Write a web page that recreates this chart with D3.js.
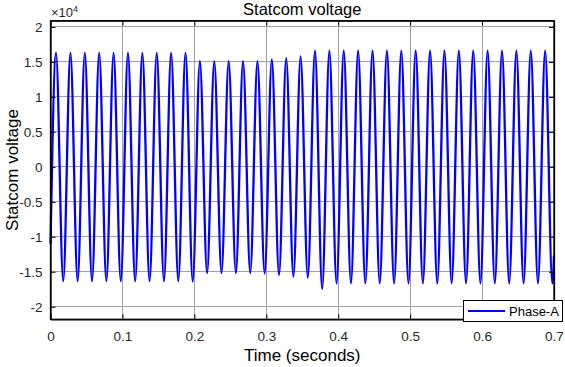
<!DOCTYPE html>
<html><head><meta charset="utf-8">
<script src="https://cdn.jsdelivr.net/npm/d3@7"></script>
<style>
html,body{margin:0;padding:0;background:#fff;}
svg{display:block;font-family:"Liberation Sans",Arial,sans-serif;}
</style></head>
<body><svg id="c" width="565" height="367"></svg>
<script>
// Data (volts)
const startPoint = [0.0, -11000];
const endPoint = [0.7, -12700];
const peakTimes = [0.0077,0.0277,0.0477,0.0677,0.0877,0.1077,0.1277,0.1477,0.1677,0.1877,
  0.2077,0.2277,0.2477,0.2677,0.2877,0.3077,0.3277,0.3477,0.3677,0.3877,
  0.4077,0.4277,0.4477,0.4677,0.4877,0.5077,0.5277,0.5477,0.5677,0.5877,
  0.6077,0.6277,0.6477,0.6677,0.6877];
const peakValues = [16300,16300,16300,16300,16300,16300,16300,16300,16300,16300,
  15100,15100,15100,15100,15100,15350,15550,15800,16600,16600,
  16600,16600,16600,16600,16600,16600,16600,16600,16600,16600,
  16600,16600,16600,16600,16600];
const troughTimes = [0.0177,0.0377,0.0577,0.0777,0.0977,0.1177,0.1377,0.1577,0.1777,0.1977,
  0.2177,0.2377,0.2577,0.2777,0.2977,0.3177,0.3377,0.3577,0.3777,0.3977,
  0.4177,0.4377,0.4577,0.4777,0.4977,0.5177,0.5377,0.5577,0.5777,0.5977,
  0.6177,0.6377,0.6577,0.6777,0.6977];
const troughValues = [-16350,-16350,-16350,-16350,-16350,-16350,-16350,-16350,-16350,-16400,
  -15200,-15200,-15200,-15200,-15250,-15470,-15700,-15850,-17470,-16700,
  -16670,-16670,-16670,-16670,-16670,-16670,-16670,-16670,-16670,-16670,
  -16670,-16670,-16670,-16670,-16670];
const xTicks = [0,0.1,0.2,0.3,0.4,0.5,0.6,0.7];
const yTicks = [-20000,-15000,-10000,-5000,0,5000,10000,15000,20000];
const seriesName = "Phase-A";

const svg = d3.select("#c");
const L=50.5, R=554, T=20.7, B=319.3;
const x = d3.scaleLinear().domain([0,0.7]).range([L,R]);
const y = d3.scaleLinear().domain([-21800,20900]).range([B,T]);

// grid
const g = svg.append("g");
g.selectAll(".gx").data(xTicks).enter().append("line")
  .attr("x1",d=>x(d)).attr("x2",d=>x(d)).attr("y1",T).attr("y2",B)
  .attr("stroke","#a0a0a0").attr("stroke-width",1).attr("shape-rendering","crispEdges");
g.selectAll(".gy").data(yTicks).enter().append("line")
  .attr("x1",L).attr("x2",R).attr("y1",d=>y(d)).attr("y2",d=>y(d))
  .attr("stroke","#a0a0a0").attr("stroke-width",1).attr("shape-rendering","crispEdges");

// data
const pts = [startPoint];
peakTimes.forEach((t,i)=>{ pts.push([t,peakValues[i]]); pts.push([troughTimes[i],troughValues[i]]); });
pts.push(endPoint);
pts.sort((a,b)=>a[0]-b[0]);
const line = d3.line().x(d=>x(d[0])).y(d=>y(d[1])).curve(d3.curveMonotoneX);
svg.append("path").datum(pts).attr("d",line).attr("fill","none")
  .attr("stroke","#0000ff").attr("stroke-width",2.3);

// axes
const fmtX = d=> d===0?"0":d3.format(".1f")(d);
const ax = svg.append("g").attr("transform",`translate(0,${B})`)
  .call(d3.axisBottom(x).tickValues(xTicks).tickFormat(fmtX).tickSizeInner(-5).tickSizeOuter(0).tickPadding(12));
const axT = svg.append("g").attr("transform",`translate(0,${T})`)
  .call(d3.axisTop(x).tickValues(xTicks).tickFormat("").tickSizeInner(-5).tickSizeOuter(0));
const ay = svg.append("g").attr("transform",`translate(${L},0)`)
  .call(d3.axisLeft(y).tickValues(yTicks).tickFormat(d=>{const v=d/10000; return v===0?"0":String(v);}).tickSizeInner(-5).tickSizeOuter(0).tickPadding(8));
const ayR = svg.append("g").attr("transform",`translate(${R},0)`)
  .call(d3.axisRight(y).tickValues(yTicks).tickFormat("").tickSizeInner(-5).tickSizeOuter(0));
[ax,axT,ay,ayR].forEach(a=>{
  a.selectAll("path").attr("stroke","#000").attr("stroke-width",1.3);
  a.selectAll("line").attr("stroke","#000");
  a.selectAll("text").attr("font-size",13.5).attr("fill","#262626").attr("font-family","Liberation Sans, Arial, sans-serif");
});
svg.append("rect").attr("x",L).attr("y",T).attr("width",R-L).attr("height",B-T)
  .attr("fill","none").attr("stroke","#000").attr("stroke-width",1.3);

// exponent
const ex = svg.append("text").attr("x",51).attr("y",17).attr("font-size",13).attr("fill","#262626");
ex.append("tspan").text("×10");
ex.append("tspan").attr("dy",-5).attr("font-size",9).text("4");

// title & labels
svg.append("text").attr("x",(L+R)/2).attr("y",15).attr("text-anchor","middle")
  .attr("font-size",16.5).attr("fill","#000").text("Statcom voltage");
svg.append("text").attr("x",(L+R)/2).attr("y",361).attr("text-anchor","middle")
  .attr("font-size",17).attr("fill","#000").text("Time (seconds)");
svg.append("text").attr("transform",`translate(18,${(T+B)/2}) rotate(-90)`).attr("text-anchor","middle")
  .attr("font-size",17).attr("fill","#000").text("Statcom voltage");

// legend
const lg = svg.append("g");
lg.append("rect").attr("x",463.5).attr("y",300.5).attr("width",99).attr("height",21)
  .attr("fill","#fff").attr("stroke","#000").attr("stroke-width",1);
lg.append("line").attr("x1",468).attr("x2",505).attr("y1",311).attr("y2",311)
  .attr("stroke","#0000ff").attr("stroke-width",2);
lg.append("text").attr("x",509).attr("y",315.5).attr("font-size",13).attr("fill","#000").text(seriesName);
</script></body></html>
